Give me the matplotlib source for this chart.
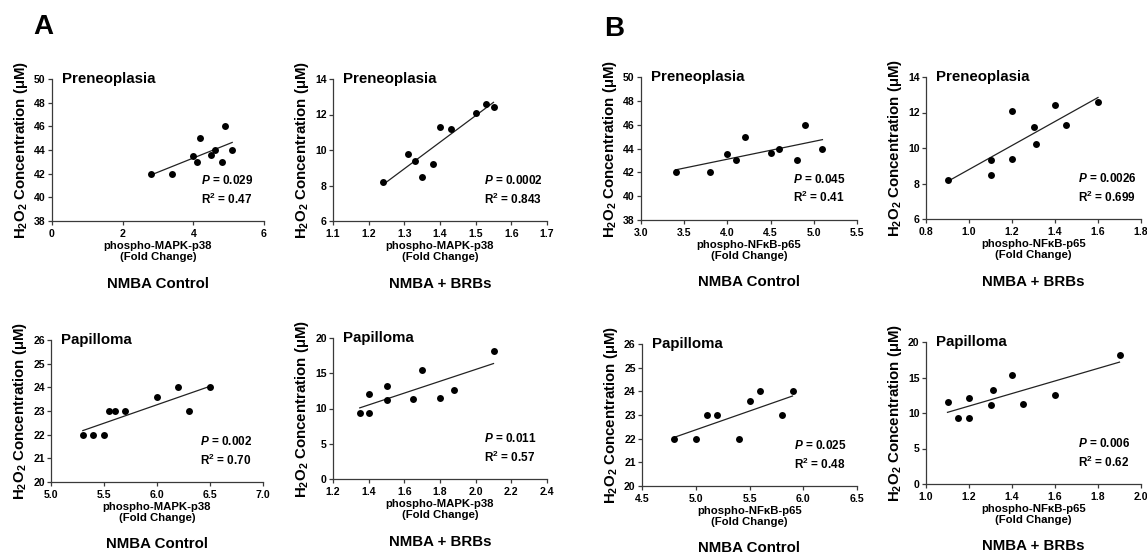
import numpy as np
import matplotlib
matplotlib.use('Agg')
import matplotlib.pyplot as plt

plt.rcParams['font.family'] = 'Liberation Sans'
plt.rcParams['font.weight'] = 'bold'
plt.rcParams['mathtext.fontset'] = 'custom'
plt.rcParams['mathtext.rm'] = 'Liberation Sans:bold'
plt.rcParams['mathtext.it'] = 'Liberation Sans:bold:italic'
plt.rcParams['mathtext.bf'] = 'Liberation Sans:bold'

#---------------------------------------------------------------------data
pre_mapk_ctrl_x = [2.8, 3.4, 4.0, 4.1, 4.2, 4.5, 4.6, 4.8, 4.9, 5.1]
pre_mapk_ctrl_y = [42, 42, 43.5, 43, 45, 43.6, 44, 43, 46, 44]
pre_mapk_brb_x = [1.24, 1.31, 1.33, 1.35, 1.38, 1.40, 1.43, 1.50, 1.53, 1.55]
pre_mapk_brb_y = [8.2, 9.8, 9.4, 8.5, 9.2, 11.3, 11.2, 12.1, 12.6, 12.4]
pre_nfkb_ctrl_x = [3.4, 3.8, 4.0, 4.1, 4.2, 4.5, 4.6, 4.8, 4.9, 5.1]
pre_nfkb_ctrl_y = [42, 42, 43.5, 43, 45, 43.6, 44, 43, 46, 44]
pre_nfkb_brb_x = [0.9, 1.1, 1.1, 1.2, 1.2, 1.3, 1.31, 1.4, 1.45, 1.6]
pre_nfkb_brb_y = [8.2, 9.3, 8.5, 12.1, 9.4, 11.2, 10.2, 12.4, 11.3, 12.6]

pap_mapk_ctrl_x = [5.3, 5.4, 5.5, 5.55, 5.6, 5.7, 6.0, 6.2, 6.3, 6.5]
pap_mapk_ctrl_y = [22, 22, 22, 23, 23, 23, 23.6, 24, 23, 24]
pap_mapk_brb_x = [1.35, 1.4, 1.4, 1.5, 1.5, 1.65, 1.7, 1.8, 1.88, 2.1]
pap_mapk_brb_y = [9.3, 12.1, 9.4, 13.2, 11.2, 11.3, 15.4, 11.5, 12.6, 18.2]
pap_nfkb_ctrl_x = [4.8, 5.0, 5.1, 5.2, 5.4, 5.5, 5.6, 5.8, 5.9]
pap_nfkb_ctrl_y = [22, 22, 23, 23, 22, 23.6, 24, 23, 24]
pap_nfkb_brb_x = [1.1, 1.15, 1.2, 1.2, 1.3, 1.31, 1.4, 1.45, 1.6, 1.9]
pap_nfkb_brb_y = [11.5, 9.3, 12.1, 9.3, 11.1, 13.2, 15.4, 11.3, 12.6, 18.2]

p_values = ['0.029', '0.0002', '0.045', '0.0026', '0.002', '0.011', '0.025', '0.006']
r2_values = ['0.47', '0.843', '0.41', '0.699', '0.70', '0.57', '0.48', '0.62']
titles = ['Preneoplasia'] * 4 + ['Papilloma'] * 4
markers = ['phospho-MAPK-p38', 'phospho-MAPK-p38', 'phospho-NF\u03baB-p65', 'phospho-NF\u03baB-p65'] * 2
groups = ['NMBA Control', 'NMBA + BRBs'] * 4

xticks = [[0, 2, 4, 6], [1.1, 1.2, 1.3, 1.4, 1.5, 1.6, 1.7],
          [3.0, 3.5, 4.0, 4.5, 5.0, 5.5], [0.8, 1.0, 1.2, 1.4, 1.6, 1.8],
          [5.0, 5.5, 6.0, 6.5, 7.0], [1.2, 1.4, 1.6, 1.8, 2.0, 2.2, 2.4],
          [4.5, 5.0, 5.5, 6.0, 6.5], [1.0, 1.2, 1.4, 1.6, 1.8, 2.0]]
xfmt = ['%d', '%.1f', '%.1f', '%.1f', '%.1f', '%.1f', '%.1f', '%.1f']
yticks = [[38, 40, 42, 44, 46, 48, 50], [6, 8, 10, 12, 14],
          [38, 40, 42, 44, 46, 48, 50], [6, 8, 10, 12, 14],
          [20, 21, 22, 23, 24, 25, 26], [0, 5, 10, 15, 20],
          [20, 21, 22, 23, 24, 25, 26], [0, 5, 10, 15, 20]]

xs = [pre_mapk_ctrl_x, pre_mapk_brb_x, pre_nfkb_ctrl_x, pre_nfkb_brb_x,
      pap_mapk_ctrl_x, pap_mapk_brb_x, pap_nfkb_ctrl_x, pap_nfkb_brb_x]
ys = [pre_mapk_ctrl_y, pre_mapk_brb_y, pre_nfkb_ctrl_y, pre_nfkb_brb_y,
      pap_mapk_ctrl_y, pap_mapk_brb_y, pap_nfkb_ctrl_y, pap_nfkb_brb_y]

#-------------------------------------------------------------------layout (px)
W, H = 1147, 556
boxes = [(52, 79, 212, 142), (333, 79, 214, 142), (641, 77, 216, 143), (926, 77, 215, 142),
         (51, 340, 212, 142), (333, 338, 214, 141), (642, 344, 215, 142), (926, 342, 215, 142)]

fig = plt.figure(figsize=(W / 100, H / 100), dpi=100)
edge = '#3a3a3a'

for i in range(8):
    l, t, w, h = boxes[i]
    ax = fig.add_axes([l / W, (H - t - h) / H, w / W, h / H])
    x = np.array(xs[i])
    y = np.array(ys[i])
    ax.scatter(x, y, s=25, color='black', zorder=3, linewidths=0)
    k, b = np.polyfit(x, y, 1)
    xl = np.array([x.min(), x.max()])
    ax.plot(xl, k * xl + b, color='#222222', lw=0.9)

    ax.set_xlim(xticks[i][0], xticks[i][-1])
    ax.set_ylim(yticks[i][0], yticks[i][-1])
    ax.set_xticks(xticks[i])
    ax.set_xticklabels([xfmt[i] % v for v in xticks[i]])
    ax.set_yticks(yticks[i])
    for s in ['top', 'right']:
        ax.spines[s].set_visible(False)
    for s in ['left', 'bottom']:
        ax.spines[s].set_color(edge)
        ax.spines[s].set_linewidth(0.9)
    ax.tick_params(direction='out', length=3, width=0.9, color=edge,
                   labelsize=7.6, pad=1.5)
    ax.tick_params(axis='x', pad=2.5)
    for lab in ax.get_xticklabels() + ax.get_yticklabels():
        lab.set_fontweight('bold')
    ax.patch.set_visible(False)

    ax.text(0.047, 1.0, titles[i], transform=ax.transAxes, fontsize=10.8,
            ha='left', va='center')
    ax.text(0.705, 0.285, '$P$ = ' + p_values[i], transform=ax.transAxes,
            fontsize=8.5, ha='left', va='center')
    ax.text(0.705, 0.155, 'R$^2$ = ' + r2_values[i], transform=ax.transAxes,
            fontsize=8.5, ha='left', va='center')

    ax.annotate(markers[i] + '\n(Fold Change)', xy=(0.5, 0), xycoords='axes fraction',
                xytext=(0, -14.5), textcoords='offset points', ha='center', va='top',
                fontsize=8.2, linespacing=1.15)
    ax.annotate(groups[i], xy=(0.5, 0), xycoords='axes fraction',
                xytext=(0, -45), textcoords='offset points', ha='center', va='center',
                fontsize=10.8)
    ax.annotate('H$_2$O$_2$ Concentration (\u03bcM)', xy=(0, 0.5), xycoords='axes fraction',
                xytext=(-22.5, 0), textcoords='offset points', ha='center', va='center',
                rotation=90, fontsize=10.8)

fig.text(33 / W, 1 - 27 / H, 'A', fontsize=20, ha='left', va='center')
fig.text(604 / W, 1 - 29 / H, 'B', fontsize=20, ha='left', va='center')

fig.savefig('out.png', dpi=100)
